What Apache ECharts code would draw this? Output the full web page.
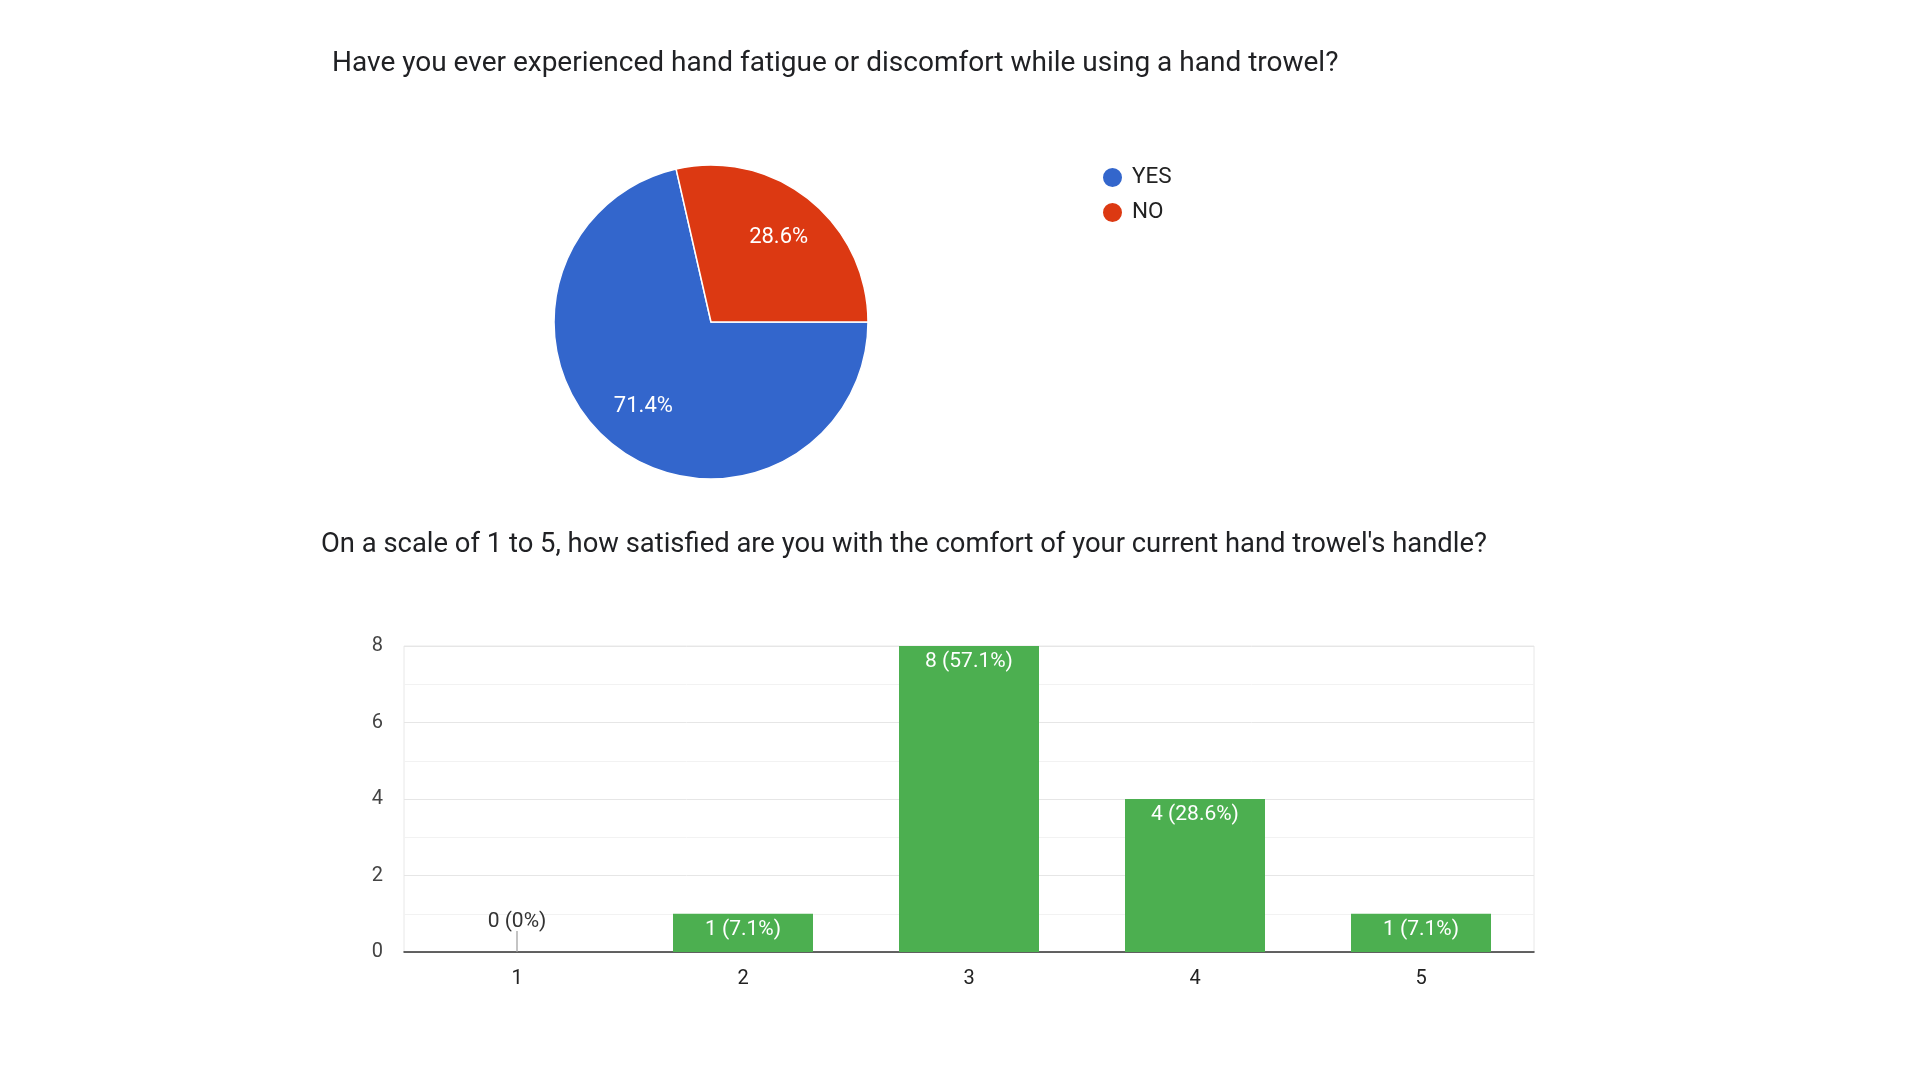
<!DOCTYPE html>
<html>
<head>
<meta charset="utf-8">
<title>Hand trowel survey</title>
<script src="https://cdn.jsdelivr.net/npm/echarts@6/dist/echarts.min.js"></script>
<style>
    html, body { margin: 0; padding: 0; background: #ffffff; }
    #chart { width: 1920px; height: 1080px; }
</style>
</head>
<body>
<div id="chart"></div>
<script>
// pie: fatigue question
const pieTitle = 'Have you ever experienced hand fatigue or discomfort while using a hand trowel?';
const pieNames = ['YES', 'NO'];
const pieValues = [10, 4];
const pieColors = ['#3366CC', '#DC3912'];

// bars: satisfaction scale
const barTitle = "On a scale of 1 to 5, how satisfied are you with the comfort of your current hand trowel's handle?";
const scaleLabels = ['1', '2', '3', '4', '5'];
const scaleCounts = [0, 1, 8, 4, 1];

const font = 'Roboto, "Noto Sans", sans-serif';
const total = scaleCounts.reduce((a, b) => a + b, 0);

function pctText(v) {
    return (Math.round(v / total * 1000) / 10) + '%';
}

const pieData = pieNames.map((name, i) => ({
    name: name,
    value: pieValues[i],
    itemStyle: { color: pieColors[i] }
}));

const barData = scaleCounts.map(v => {
    if (v === 0) {
        return {
            value: v,
            label: { position: 'top', distance: 20, color: '#333333' }
        };
    }
    return v;
});

// little grey stem google draws for empty bars
const zeroStem = scaleCounts.map(v => (v === 0 ? 0 : '-'));

window.onload = () => {
    const chart = echarts.init(document.getElementById('chart'));

    chart.setOption({
        backgroundColor: '#ffffff',
        animation: false,
        textStyle: { fontFamily: font },
        title: [
            {
                text: pieTitle,
                left: 332,
                top: 50,
                padding: 0,
                textStyle: { fontFamily: font, fontSize: 28, fontWeight: 'normal', color: '#202124' }
            },
            {
                text: barTitle,
                left: 321,
                top: 532,
                padding: 0,
                textStyle: { fontFamily: font, fontSize: 27.4, fontWeight: 'normal', color: '#202124' }
            }
        ],
        legend: {
            data: pieNames,
            orient: 'vertical',
            left: 1101,
            top: 166,
            itemWidth: 21,
            itemHeight: 21,
            itemGap: 12,
            icon: 'circle',
            padding: 0,
            textStyle: { fontFamily: font, fontSize: 22.5, color: '#222222', padding: [0, 0, 0, 4] }
        },
        grid: {
            left: 404,
            right: 1920 - 1534,
            top: 646,
            bottom: 1080 - 952,
            show: true,
            borderColor: '#e8e8e8',
            borderWidth: 1
        },
        xAxis: {
            type: 'category',
            data: scaleLabels,
            axisTick: { show: false },
            axisLine: { lineStyle: { color: '#333333', width: 1.5 } },
            axisLabel: { margin: 17, fontSize: 20, color: '#222222', fontFamily: font }
        },
        yAxis: {
            type: 'value',
            min: 0,
            max: 8,
            interval: 2,
            axisLine: { show: false },
            axisTick: { show: false },
            axisLabel: { margin: 21, fontSize: 20, color: '#444444', fontFamily: font },
            splitLine: { lineStyle: { color: '#e6e6e6' } },
            minorTick: { show: false, splitNumber: 2 },
            minorSplitLine: { show: true, lineStyle: { color: '#f2f2f2' } }
        },
        series: [
            {
                type: 'pie',
                name: 'fatigue',
                center: [711, 322],
                radius: [0, 157],
                startAngle: 0,
                clockwise: true,
                percentPrecision: 1,
                label: { show: false },
                labelLine: { show: false },
                emphasis: { scale: false },
                itemStyle: { borderColor: '#ffffff', borderWidth: 1.5 },
                data: pieData
            },
            {
                // transparent ring only to place the % labels further out
                type: 'pie',
                name: 'fatigueLabels',
                center: [711, 322],
                radius: [54, 157],
                startAngle: 0,
                clockwise: true,
                silent: true,
                percentPrecision: 1,
                legendHoverLink: false,
                itemStyle: { color: 'rgba(0,0,0,0)' },
                label: {
                    show: true,
                    position: 'inside',
                    formatter: '{d}%',
                    fontFamily: font,
                    fontSize: 22,
                    color: '#ffffff'
                },
                labelLine: { show: false },
                data: pieNames.map((name, i) => ({ name: name + ' ', value: pieValues[i] }))
            },
            {
                type: 'bar',
                name: 'satisfaction',
                data: barData,
                barWidth: 140,
                itemStyle: { color: '#4CAF50' },
                label: {
                    show: true,
                    position: 'insideTop',
                    distance: 5,
                    fontFamily: font,
                    fontSize: 21,
                    color: '#ffffff',
                    formatter: p => p.value + ' (' + pctText(p.value) + ')'
                }
            },
            {
                type: 'scatter',
                name: 'zeroStem',
                data: zeroStem,
                symbol: 'rect',
                symbolSize: [1.5, 21],
                symbolOffset: [0, -10.5],
                itemStyle: { color: '#9e9e9e' },
                silent: true
            }
        ]
    });
};
</script>
</body>
</html>
